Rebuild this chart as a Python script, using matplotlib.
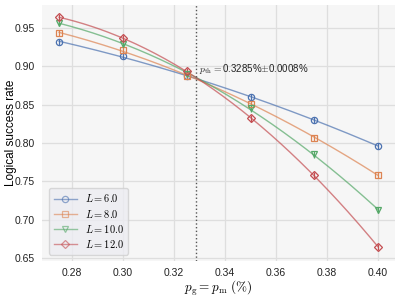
import numpy as np
import matplotlib
matplotlib.use("Agg")
import matplotlib.pyplot as plt

p = [0.275, 0.30, 0.325, 0.35, 0.375, 0.40]
L_values = [6.0, 8.0, 10.0, 12.0]
rate_L6 = [0.932, 0.9135, 0.887, 0.860, 0.830, 0.796]
rate_L8 = [0.9435, 0.921, 0.888, 0.851, 0.807, 0.758]
rate_L10 = [0.957, 0.929, 0.890, 0.845, 0.785, 0.712]
rate_L12 = [0.964, 0.9366, 0.8935, 0.832, 0.758, 0.664]
err = [0.004, 0.004, 0.004, 0.004, 0.004, 0.004]
p_th = 0.3285
xticks = [0.28, 0.30, 0.32, 0.34, 0.36, 0.38, 0.40]
yticks = [0.65, 0.70, 0.75, 0.80, 0.85, 0.90, 0.95]

plt.rcParams['mathtext.fontset'] = 'cm'
plt.rcParams['font.family'] = ['Liberation Sans', 'DejaVu Sans']

colors = ['#4c72b0', '#dd8452', '#55a868', '#c44e52']
markers = ['o', 's', 'v', 'D']
series = [rate_L6, rate_L8, rate_L10, rate_L12]

fig = plt.figure(figsize=(3.99, 2.98), dpi=100)
ax = fig.add_axes([42/399, 1-261/298, (395-42)/399, (261-5)/298])
ax.set_facecolor('#f6f6f6')
for s in ax.spines.values():
    s.set_visible(False)
ax.grid(True, color='#dedede', linewidth=0.9)
ax.set_axisbelow(True)

xs = np.linspace(min(p), max(p), 200)
for L, y, c, m in zip(L_values, series, colors, markers):
    coef = np.polyfit(p, y, 2)
    ax.plot(xs, np.polyval(coef, xs), color=c, alpha=0.7, lw=1.0)
    ax.errorbar(p, y, yerr=err, fmt=m, mfc='none', mec=c, ecolor=c, ms=4.5,
                mew=0.9, elinewidth=0.9, capsize=0)
    ax.plot([], [], color=c, alpha=0.6, lw=1.0, marker=m, mfc='none', mec=c,
            ms=4.5, mew=0.9, label=r'$L=%.1f$' % L)

ax.axvline(p_th, color='#555555', ls=':', lw=1.0)
ax.text(p_th + 0.0012, 0.8965, r'$p_{\mathrm{th}}=$0.3285%$\pm$0.0008%',
        fontsize=7, color='#222222', va='center')

ax.set_xlim(0.2683, 0.4066)
ax.set_ylim(0.646, 0.980)
ax.set_xticks(xticks)
ax.set_xticklabels(['%.2f' % v for v in xticks])
ax.set_yticks(yticks)
ax.set_yticklabels(['%.2f' % v for v in yticks])
ax.tick_params(length=0, labelsize=7.5, colors='#222222', pad=5)
ax.set_xlabel(r'$p_{\mathrm{g}}=p_{\mathrm{m}}\ (\%)$', fontsize=9.5, labelpad=1)
ax.set_ylabel('Logical success rate', fontsize=8.5)
ax.yaxis.set_label_coords(-0.072, 0.5)

leg = ax.legend(loc='lower left', fontsize=7.5, frameon=True, handlelength=2.2,
                borderpad=0.45, labelspacing=0.3, handletextpad=0.8,
                bbox_to_anchor=(0.005, 0.005))
leg.get_frame().set_facecolor('#ececf2')
leg.get_frame().set_edgecolor('#d0d0d0')

fig.savefig('out.png', dpi=100)
